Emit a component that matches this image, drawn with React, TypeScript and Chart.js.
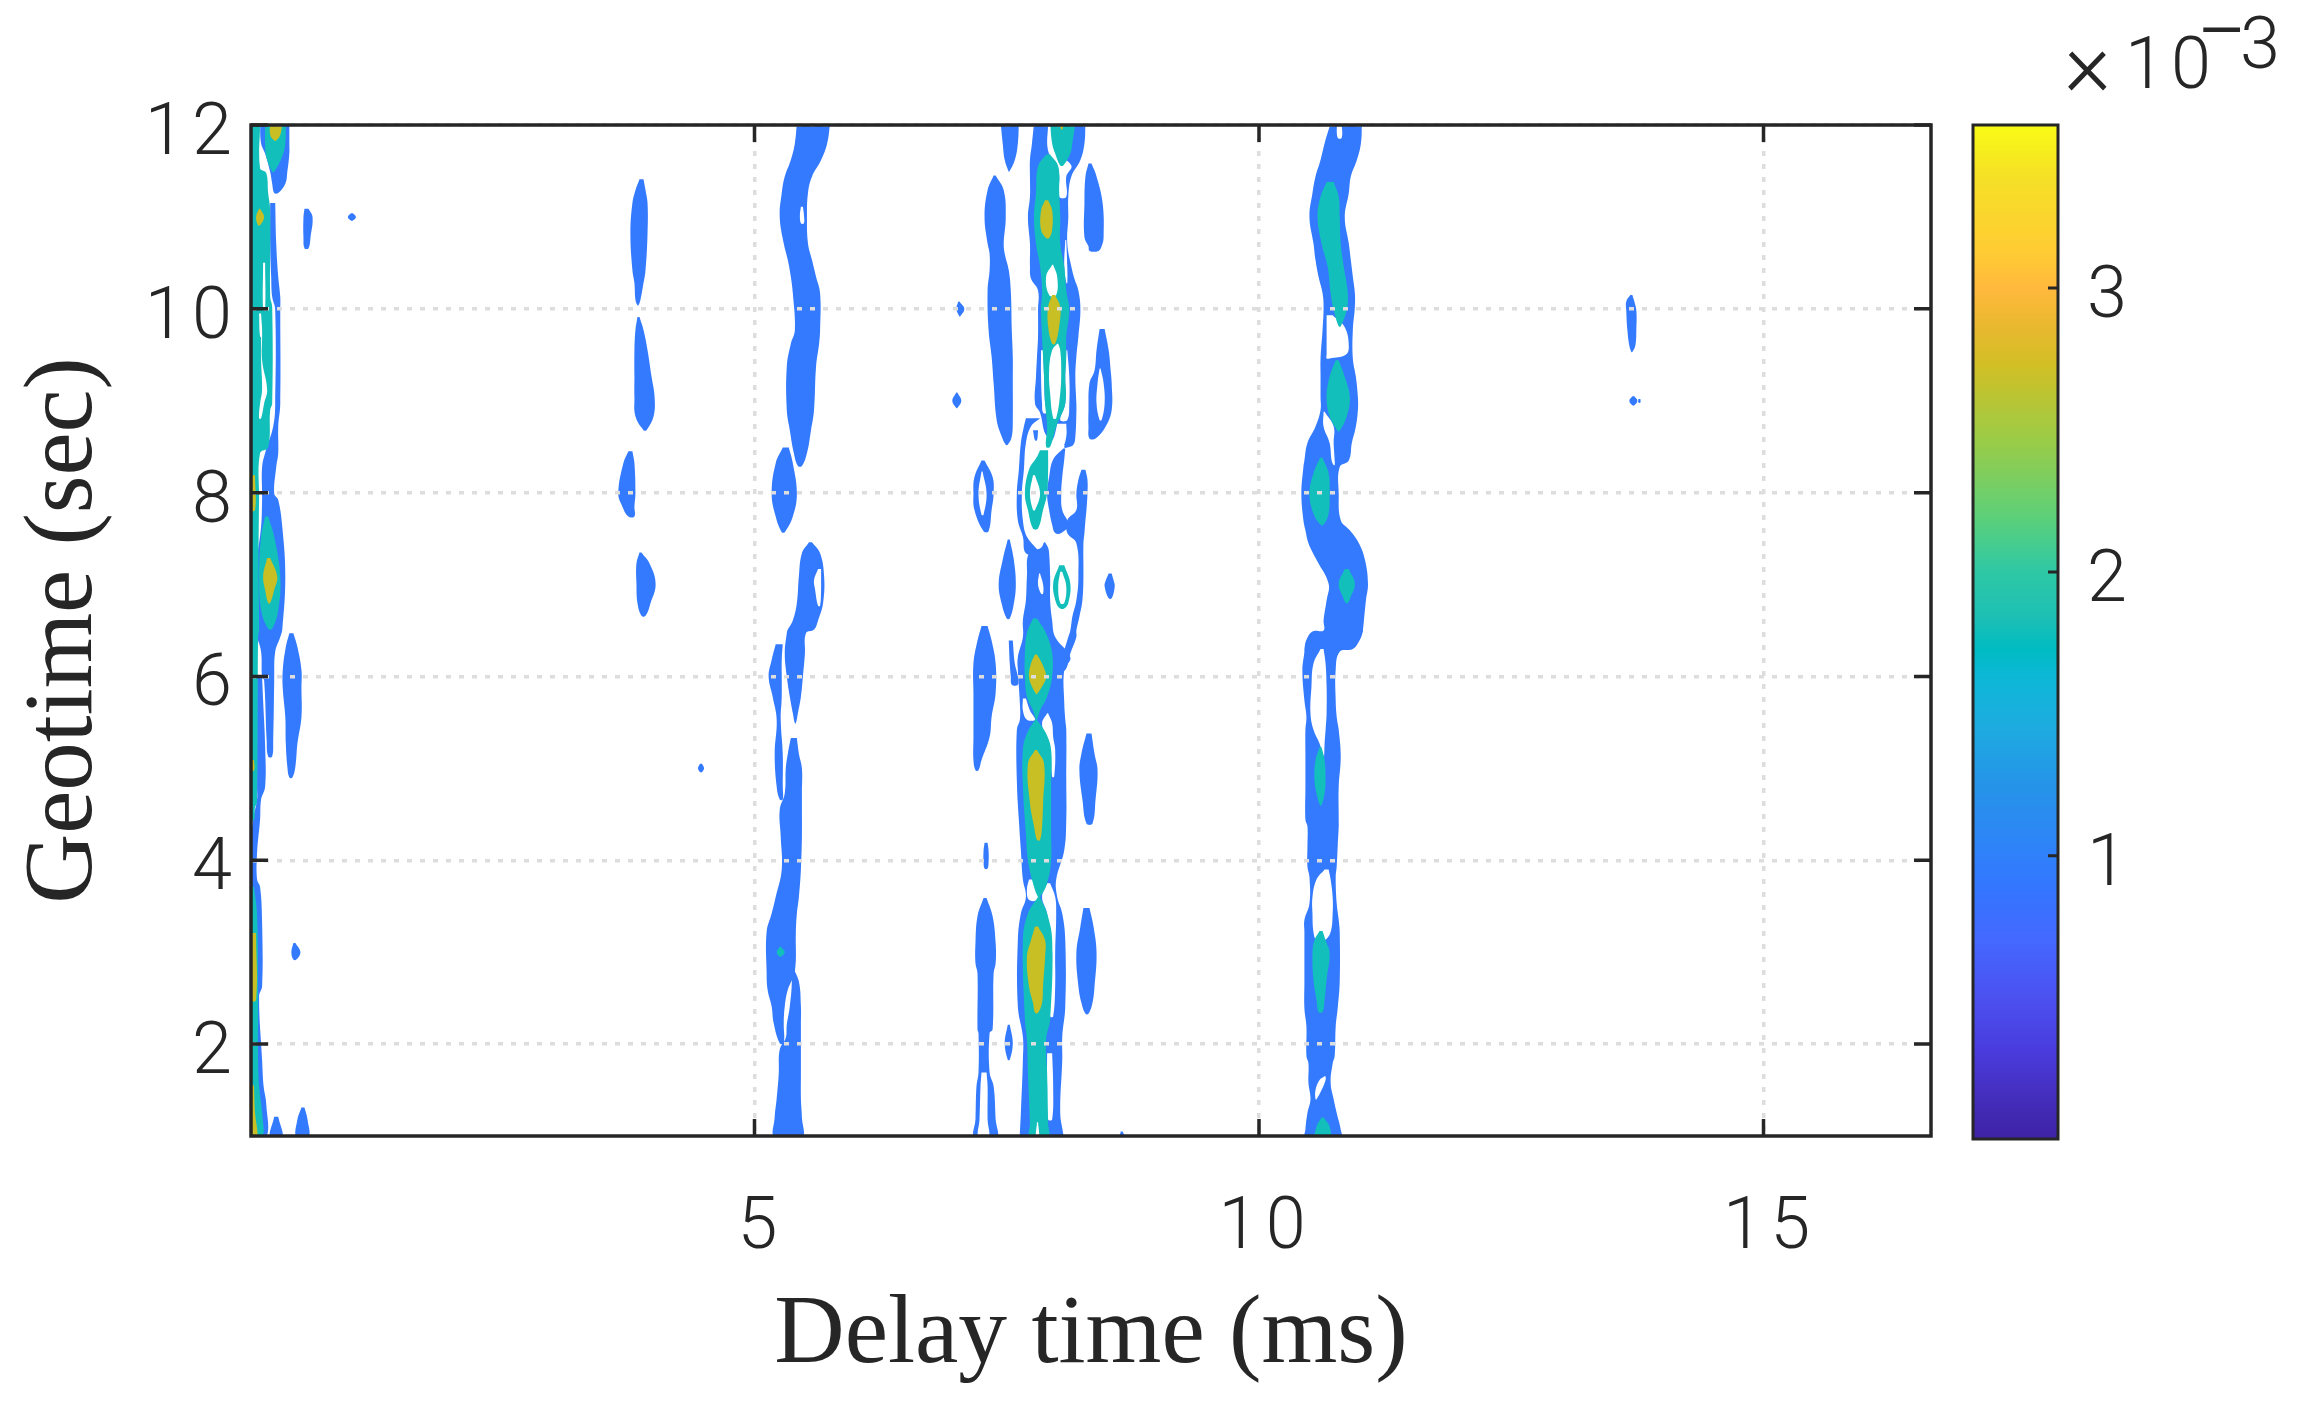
import { useEffect, useRef } from 'react'
import Chart from 'chart.js/auto'

type Row = number[] // [geotime, left delay, right delay]

const xTicks = [5, 10, 15]
const yTicks = [2, 4, 6, 8, 10, 12]
const xRange = [0.01, 16.66]
const yRange = [1, 12]

const cbarTicks = [0.001, 0.002, 0.003]
const cbarRange = [0.0000025, 0.003574]
const cbarValues = [0.0000025, 0.00013, 0.00032, 0.00051, 0.0007, 0.00091, 0.001075, 0.00126, 0.00145, 0.00164, 0.00173, 0.00183, 0.002, 0.00219, 0.00246, 0.00273, 0.00287, 0.003, 0.00313, 0.0034, 0.003574]
const cbarColors = ['#3E22A5', '#432CB8', '#4A3CDF', '#4B52F0', '#4468FF', '#3278FF', '#2D87F5', '#2595E8', '#1EABE0', '#0BB8D5', '#00BBC2', '#1BBFB5', '#2EC8A5', '#5CD07A', '#9ACC47', '#D2BF25', '#EAB82F', '#FFB93C', '#FFCC33', '#F5E125', '#F9FB15']

// level 1 contours
const rightBand: Row[] = [[12.02,10.71,11.02],[11.8,10.65,11.01],[11.62,10.61,10.97],[11.44,10.56,10.91],[11.26,10.53,10.89],[11,10.5,10.85],[10.71,10.54,10.89],[10.53,10.56,10.91],[10.35,10.59,10.93],[10.17,10.63,10.95],[10.02,10.64,10.95],[9.77,10.63,10.93],[9.46,10.61,10.93],[9.26,10.61,10.96],[9.04,10.61,10.98],[8.9,10.61,10.98],[8.72,10.56,10.96],[8.54,10.48,10.92],[8.35,10.45,10.89],[8.28,10.44,10.8],[7.99,10.42,10.79],[7.7,10.44,10.81],[7.59,10.46,10.9],[7.45,10.49,10.99],[7.27,10.57,11.05],[7.01,10.69,11.08],[6.83,10.67,11.06],[6.61,10.64,11.04],[6.5,10.64,11.03],[6.49,10.53,11.03],[6.4,10.47,11],[6.3,10.45,10.93],[6.27,10.45,10.8],[6.07,10.43,10.76],[5.74,10.45,10.76],[5.56,10.47,10.77],[5.42,10.46,10.79],[5.13,10.46,10.81],[4.8,10.46,10.79],[4.44,10.46,10.79],[4.37,10.48,10.79],[4.15,10.48,10.78],[3.93,10.48,10.77],[3.82,10.5,10.76],[3.53,10.5,10.77],[3.35,10.45,10.79],[3.22,10.45,10.8],[2.68,10.45,10.8],[2.39,10.45,10.78],[2.19,10.47,10.76],[1.87,10.47,10.75],[1.79,10.49,10.73],[1.58,10.49,10.71],[1.4,10.51,10.74],[1.25,10.48,10.77],[1.07,10.46,10.81],[0.98,10.46,10.81]]
const farDashTop: Row[] = [[10.15,13.68,13.7],[10.08,13.64,13.72],[9.98,13.64,13.74],[9.78,13.65,13.74],[9.6,13.67,13.73],[9.53,13.69,13.7]]
const farDotA: Row[] = [[9.05,13.7,13.72],[9,13.67,13.75],[8.95,13.7,13.72]]
const farDotB: Row[] = [[9.02,13.76,13.78],[8.98,13.76,13.78]]
const colATop: Row[] = [[12.02,7.44,7.62],[11.8,7.46,7.61],[11.62,7.48,7.58],[11.49,7.52,7.525]]
const colALong: Row[] = [[11.45,7.37,7.39],[11.29,7.31,7.47],[11,7.28,7.49],[10.71,7.31,7.47],[10.6,7.33,7.48],[10.42,7.33,7.52],[10.2,7.31,7.54],[9.77,7.32,7.55],[9.48,7.35,7.56],[9.19,7.37,7.56],[8.79,7.4,7.56],[8.61,7.45,7.55],[8.52,7.49,7.51]]
const dotC: Row[] = [[10.08,7.02,7.03],[10,7,7.08],[9.92,7.03,7.04]]
const dotD: Row[] = [[9.09,7,7.01],[9,6.96,7.05],[8.92,7,7.01]]
const ringE: Row[] = [[8.35,7.25,7.28],[8.17,7.18,7.36],[7.99,7.17,7.37],[7.81,7.18,7.35],[7.58,7.27,7.32]]
const ringF: Row[] = [[9.78,8.42,8.47],[9.55,8.39,8.51],[9.33,8.37,8.53],[9.19,8.32,8.54],[8.9,8.31,8.54],[8.72,8.31,8.48],[8.59,8.32,8.38]]
const blobG: Row[] = [[11.58,8.31,8.34],[11.44,8.28,8.39],[11.15,8.27,8.45],[10.78,8.27,8.46],[10.68,8.31,8.44],[10.63,8.32,8.41]]
const blobH: Row[] = [[7.12,8.51,8.54],[7.04,8.48,8.56],[6.98,8.47,8.57],[6.85,8.51,8.54]]
const blobI: Row[] = [[7.49,7.51,7.53],[7.27,7.46,7.57],[7.01,7.42,7.59],[6.79,7.45,7.57],[6.63,7.5,7.53]]
const blobJ: Row[] = [[6.55,7.25,7.31],[6.39,7.21,7.35],[6.14,7.17,7.39],[5.82,7.17,7.39],[5.56,7.17,7.35],[5.34,7.17,7.33],[5.09,7.17,7.25],[4.98,7.19,7.22]]
const blobK: Row[] = [[4.19,7.28,7.31],[4.1,7.27,7.32],[3.98,7.27,7.32],[3.91,7.28,7.31]]
const blobL: Row[] = [[3.59,7.27,7.3],[3.39,7.21,7.36],[3.1,7.19,7.39],[2.88,7.19,7.39],[2.77,7.21,7.37],[2.16,7.21,7.36],[2.12,7.22,7.33],[1.69,7.22,7.33],[1.54,7.2,7.37],[1.18,7.19,7.39],[0.98,7.18,7.4]]
const blobM: Row[] = [[2.21,7.51,7.53],[2.01,7.48,7.56],[1.83,7.51,7.53]]
const blobN: Row[] = [[5.38,8.29,8.34],[5.16,8.24,8.37],[4.98,8.22,8.4],[4.66,8.25,8.38],[4.4,8.29,8.35]]
const blobO: Row[] = [[3.48,8.26,8.32],[3.28,8.23,8.36],[2.99,8.19,8.39],[2.63,8.21,8.37],[2.45,8.24,8.35],[2.33,8.28,8.31]]
const sliverP: Row[] = [[6.39,7.52,7.56],[6.14,7.53,7.58],[6,7.54,7.61],[5.91,7.55,7.61]]
const tinyBottom: Row[] = [[1.05,8.63,8.65],[0.98,8.62,8.67]]
const midTop: Row[] = [[12.02,7.77,8.28],[11.8,7.75,8.27],[11.62,7.73,8.23],[11.44,7.73,8.14],[11.22,7.73,8.11],[11,7.71,8.11],[10.71,7.73,8.1],[10.46,7.73,8.14],[10.33,7.74,8.17],[10.2,7.81,8.21],[9.99,7.81,8.23],[9.7,7.81,8.21],[9.48,7.8,8.19],[9.26,7.79,8.18],[8.97,7.78,8.19],[8.87,7.83,8.19],[8.61,7.9,8.18],[8.52,8.07,8.16],[8.49,8.07,8.1]]
const midStrand: Row[] = [[8.81,7.69,7.83],[8.72,7.67,7.74],[8.54,7.64,7.69],[8.25,7.62,7.67],[7.99,7.6,7.65],[7.7,7.61,7.66],[7.52,7.66,7.7],[7.34,7.69,7.82]]
const midStub: Row[] = [[8.68,7.76,7.81],[8.57,7.78,7.8]]
const midLower: Row[] = [[7.46,7.87,7.88],[7.4,7.84,7.91],[7.34,7.72,7.92],[7.09,7.7,7.93],[6.83,7.69,7.93],[6.61,7.66,7.95],[6.43,7.66,7.98],[6.21,7.61,8.13],[6.07,7.61,8.07],[5.71,7.63,8.07],[5.53,7.63,8.08],[5.42,7.6,8.09],[4.87,7.6,8.09],[4.44,7.62,8.09],[4.11,7.64,8.07],[3.79,7.66,7.99],[3.6,7.69,8],[3.42,7.64,8.05],[3.13,7.61,8.08],[2.41,7.61,8.08],[2.08,7.66,8.05],[1.83,7.66,8.05],[1.25,7.64,8.03],[1.02,7.63,8.06],[0.98,7.63,8.06]]
const midStrandRight: Row[] = [[8.25,8.24,8.28],[8.14,8.21,8.3],[7.99,8.19,8.3],[7.81,8.19,8.29],[7.7,8.1,8.28],[7.56,8.1,8.27],[7.45,8.19,8.26],[7.09,8.21,8.26],[6.83,8.19,8.25],[6.65,8.15,8.22],[6.5,8.13,8.19],[6.43,8.11,8.19],[6.25,8.06,8.13],[6.07,8.01,8.08]]
const midBlob: Row[] = [[8.48,8.06,8.08],[8.36,7.96,8.07],[8.17,7.92,8.05],[7.99,7.9,8.04],[7.81,7.92,8.05],[7.65,7.95,8.11],[7.56,7.98,8.04]]
const leftTop: Row[] = [[12.02,0.1,0.39],[11.8,0.11,0.39],[11.69,0.15,0.39],[11.49,0.2,0.37],[11.36,0.22,0.35],[11.26,0.24,0.28]]
const leftStrip: Row[] = [[11.15,0.2,0.25],[10.71,0.2,0.26],[10.35,0.21,0.28],[10.13,0.22,0.3],[9.99,0.25,0.3],[8.97,0.25,0.3],[8.72,0.23,0.28],[8.43,0.15,0.28],[8.28,0.12,0.26],[7.99,0.12,0.24],[7.92,0.12,0.28],[7.63,0.11,0.32],[7.09,0.05,0.35],[6.51,0.05,0.32],[6.43,0.07,0.3],[6.27,0.11,0.25],[5.99,0.12,0.24],[5.96,0.14,0.24],[5.31,0.165,0.23],[5.13,0.18,0.22]]
const leftEdge: Row[] = [[5.99,0.07,0.12],[5.74,0.07,0.13],[5.24,0.07,0.15],[4.8,0.07,0.15],[4.66,0.07,0.11],[4.44,0.03,0.1],[4.08,0,0.07],[3.79,0,0.07],[3.71,0,0.1],[3.32,0,0.12],[2.63,0,0.12],[2.52,0,0.09],[1.83,0,0.12],[1.54,0,0.135],[1.36,0,0.16],[0.98,0,0.16]]
const blobQ: Row[] = [[6.47,0.39,0.43],[6.32,0.355,0.47],[6.07,0.325,0.51],[5.87,0.325,0.51],[5.56,0.35,0.51],[5.27,0.355,0.47],[5.02,0.37,0.45],[4.9,0.39,0.42]]
const blobR: Row[] = [[3.1,0.43,0.45],[3,0.41,0.5],[2.92,0.43,0.46]]
const blobS: Row[] = [[1.21,0.24,0.28],[0.98,0.2,0.32]]
const blobU: Row[] = [[1.31,0.51,0.54],[1.18,0.47,0.57],[0.98,0.46,0.58]]
const blobV: Row[] = [[11.09,0.54,0.58],[11,0.53,0.62],[10.78,0.53,0.6],[10.66,0.54,0.58]]
const dotW: Row[] = [[11.04,1,1.02],[11,0.97,1.05],[10.96,1,1.02]]
const dotX: Row[] = [[5.05,4.46,4.48],[5,4.44,4.5],[4.96,4.46,4.48]]
const col39a: Row[] = [[11.41,3.86,3.9],[11.29,3.82,3.92],[11.15,3.79,3.94],[10.82,3.77,3.94],[10.42,3.79,3.92],[10.28,3.81,3.9],[10.1,3.82,3.87],[10.04,3.84,3.85]]
const col39b: Row[] = [[9.91,3.84,3.86],[9.77,3.82,3.9],[9.55,3.81,3.94],[9.26,3.81,3.98],[9.04,3.81,4.01],[8.83,3.82,4],[8.68,3.9,3.93]]
const col39c: Row[] = [[8.45,3.75,3.79],[8.32,3.7,3.81],[7.99,3.65,3.82],[7.85,3.69,3.81],[7.74,3.75,3.81]]
const col39d: Row[] = [[7.35,3.86,3.88],[7.23,3.83,3.96],[7.01,3.83,4.02],[6.8,3.84,3.97],[6.66,3.88,3.92]]
const col54a: Row[] = [[12.02,5.42,5.75],[11.8,5.4,5.72],[11.62,5.36,5.66],[11.44,5.3,5.57],[11.26,5.27,5.53],[11,5.25,5.52],[10.71,5.29,5.53],[10.53,5.33,5.57],[10.35,5.36,5.61],[10.17,5.38,5.65],[9.77,5.4,5.65],[9.62,5.36,5.64],[9.37,5.32,5.61],[8.9,5.32,5.59],[8.68,5.35,5.56],[8.43,5.39,5.52],[8.29,5.43,5.47]]
const col54b: Row[] = [[8.49,5.28,5.34],[8.32,5.21,5.38],[7.99,5.17,5.42],[7.74,5.21,5.38],[7.57,5.27,5.3]]
const col54c: Row[] = [[7.46,5.54,5.57],[7.34,5.47,5.65],[7.09,5.44,5.69],[6.8,5.42,5.68],[6.61,5.38,5.63],[6.51,5.33,5.59],[6.47,5.32,5.51],[6.25,5.3,5.5],[6,5.32,5.48],[5.78,5.35,5.46],[5.6,5.38,5.43],[5.49,5.4,5.41]]
const col54side: Row[] = [[6.35,5.21,5.28],[6.18,5.17,5.27],[6,5.14,5.27],[5.78,5.18,5.27],[5.53,5.22,5.26],[5.16,5.2,5.28],[4.8,5.22,5.28],[4.66,5.25,5.28]]
const col54low: Row[] = [[5.33,5.36,5.42],[5.16,5.33,5.44],[5,5.31,5.47],[4.73,5.3,5.47],[4.55,5.25,5.47],[4.26,5.26,5.47],[3.9,5.27,5.46],[3.6,5.21,5.44],[3.42,5.17,5.42],[3.22,5.12,5.41],[2.79,5.12,5.4],[2.59,5.13,5.33],[2.41,5.17,5.3],[2.23,5.19,5.29],[2.01,5.25,5.29]]
const col54foot: Row[] = [[2.84,5.36,5.38],[2.68,5.37,5.44],[2.41,5.35,5.46],[2.21,5.32,5.46],[2.07,5.31,5.46],[1.94,5.25,5.46],[1.67,5.24,5.46],[1.41,5.22,5.46],[1.2,5.2,5.47],[0.98,5.2,5.47]]

// white gaps inside the level 1 contours
const gapBandNotch: Row[] = [[12.02,10.77,10.82],[11.86,10.78,10.82]]
const gapBandA: Row[] = [[9.93,10.67,10.73],[9.8,10.67,10.85],[9.59,10.67,10.89],[9.5,10.67,10.86],[9.46,10.67,10.7]]
const gapBandB: Row[] = [[8.88,10.64,10.65],[8.72,10.64,10.74],[8.54,10.7,10.74],[8.35,10.72,10.75],[8.3,10.74,10.75]]
const gapBandC: Row[] = [[6.3,10.61,10.64],[6.14,10.54,10.66],[5.89,10.52,10.67],[5.6,10.51,10.67],[5.42,10.54,10.66],[5.27,10.6,10.65],[5.13,10.64,10.645]]
const gapBandD: Row[] = [[3.9,10.65,10.69],[3.79,10.57,10.71],[3.6,10.53,10.73],[3.42,10.53,10.73],[3.22,10.54,10.71],[3.13,10.57,10.65]]
const gapBandE: Row[] = [[1.65,10.65,10.66],[1.61,10.6,10.66],[1.5,10.56,10.62],[1.4,10.56,10.57]]
const gapRingE: Row[] = [[8.23,7.25,7.26],[7.99,7.22,7.3],[7.76,7.25,7.27]]
const gapRingF: Row[] = [[9.35,8.42,8.43],[9.19,8.4,8.46],[8.97,8.39,8.47],[8.79,8.42,8.44]]
const gapBlobL: Row[] = [[1.69,7.25,7.3],[1.54,7.24,7.31],[1.18,7.23,7.31],[0.98,7.22,7.32]]
const gapMidA: Row[] = [[12.02,7.91,7.95],[11.72,7.91,7.98],[11.56,8,8.14],[11.44,8.02,8.09],[11.22,8.02,8.09]]
const gapMidB: Row[] = [[9.55,7.84,7.86],[9.26,7.84,7.87],[8.97,7.85,7.88],[8.87,7.86,7.9]]
const gapMidC: Row[] = [[9.55,8.09,8.1],[9.26,8.08,8.12],[8.97,8.08,8.12],[8.79,8.03,8.1]]
const gapMidD: Row[] = [[8.75,8,8.09],[8.61,7.97,8.09],[8.5,7.93,8.05]]
const gapMidE: Row[] = [[10.75,8.08,8.09],[10.46,8.07,8.1],[10.28,8.09,8.1]]
const gapLowA: Row[] = [[7.12,7.82,7.83],[7,7.81,7.86],[6.9,7.84,7.86]]
const gapLowB: Row[] = [[5.76,7.66,7.69],[5.63,7.66,7.73],[5.53,7.7,7.78]]
const gapLowC: Row[] = [[5.6,7.9,7.91],[5.49,7.85,7.95],[5.34,7.89,7.96],[5.2,7.93,7.98],[4.91,7.95,7.97]]
const gapLowD: Row[] = [[3.79,7.72,7.76],[3.68,7.7,7.8],[3.57,7.72,7.8]]
const gapLowE: Row[] = [[3.75,7.9,7.93],[3.6,7.85,7.98],[3.42,7.9,7.99],[2.99,7.95,7.98],[2.63,7.93,7.98],[2.3,7.93,7.96]]
const gapLowF: Row[] = [[1.9,7.9,7.95],[1.54,7.9,7.96],[1.18,7.91,7.95]]
const gapCol54a: Row[] = [[11.11,5.46,5.48],[11.02,5.45,5.49],[10.93,5.46,5.49]]
const gapCol54c: Row[] = [[7.17,5.63,5.66],[7.05,5.59,5.66],[6.95,5.6,5.66],[6.77,5.63,5.65]]

// level 2 contours
const tealBandA: Row[] = [[11.38,10.67,10.74],[11.22,10.61,10.79],[11,10.58,10.8],[10.71,10.62,10.81],[10.46,10.68,10.84],[10.17,10.71,10.88],[9.99,10.74,10.87],[9.81,10.79,10.81]]
const tealBandB: Row[] = [[9.44,10.76,10.79],[9.26,10.7,10.85],[9.04,10.67,10.9],[8.83,10.7,10.87],[8.67,10.78,10.8]]
const tealBandC: Row[] = [[8.38,10.605,10.63],[8.21,10.54,10.69],[7.99,10.5,10.7],[7.77,10.54,10.69],[7.65,10.61,10.64]]
const tealBandD: Row[] = [[7.17,10.85,10.89],[7.01,10.79,10.95],[6.87,10.83,10.91],[6.8,10.86,10.88]]
const tealBandE: Row[] = [[5.23,10.6,10.62],[5.09,10.56,10.65],[4.87,10.55,10.66],[4.73,10.57,10.65],[4.6,10.605,10.62]]
const tealBandF: Row[] = [[3.23,10.6,10.63],[3.13,10.55,10.66],[2.99,10.53,10.7],[2.7,10.54,10.67],[2.48,10.57,10.65],[2.35,10.59,10.63]]
const tealBandG: Row[] = [[1.2,10.62,10.64],[1.1,10.57,10.7],[0.96,10.56,10.7]]
const tealTopRight: Row[] = [[12.02,7.93,8.18],[11.8,7.95,8.15],[11.69,7.98,8.13],[11.56,8.03,8.06]]
const tealMain: Row[] = [[11.68,7.89,7.93],[11.55,7.81,8.01],[11.26,7.79,8.02],[11,7.77,8.03],[10.71,7.79,8.03],[10.46,7.83,8.07],[10.2,7.85,8.09],[9.99,7.84,8.12],[9.7,7.85,8.09],[9.48,7.86,8.09],[9.26,7.87,8.08],[8.97,7.88,8.08],[8.72,7.9,7.99],[8.5,7.89,7.93]]
const tealRing: Row[] = [[8.46,7.83,7.91],[8.39,7.8,7.91],[8.25,7.72,7.91],[7.99,7.68,7.9],[7.81,7.71,7.86],[7.61,7.76,7.81]]
const tealSmallRing: Row[] = [[7.21,8.02,8.07],[7.01,7.96,8.13],[6.8,7.99,8.11],[6.74,8.03,8.07]]
const tealA: Row[] = [[6.63,7.76,7.8],[6.47,7.7,7.89],[6.25,7.68,7.95],[6,7.68,7.95],[5.78,7.7,7.9],[5.63,7.76,7.83],[5.53,7.79,7.8]]
const tealB: Row[] = [[5.53,7.78,7.8],[5.38,7.7,7.89],[5.2,7.66,7.94],[4.8,7.66,7.94],[4.29,7.69,7.94],[4,7.71,7.94],[3.75,7.76,7.9],[3.6,7.81,7.83]]
const tealC: Row[] = [[3.6,7.81,7.83],[3.42,7.71,7.9],[3.13,7.66,7.95],[2.27,7.68,7.93],[2.05,7.7,7.89],[1.69,7.71,7.9],[1.14,7.73,7.91],[0.98,7.73,7.91]]
const tealLeftTop: Row[] = [[12.02,0.15,0.355],[11.8,0.15,0.35],[11.66,0.16,0.32],[11.49,0.22,0.24]]
const tealLeftCol: Row[] = [[12.02,0,0.1],[11.53,0,0.1],[11.48,0,0.16],[11.26,0,0.18],[11.07,0,0.2],[10.13,0,0.2],[10.02,0,0.22],[8.97,0,0.22],[8.9,0,0.2],[8.49,0,0.18],[8.43,0,0.1],[7.92,0,0.09],[7.15,0,0.085],[6.51,0,0.09],[6.43,0,0.08],[4.62,0,0.07],[4.58,0,0.05],[4.44,0,0.04]]
const tealLeftLow: Row[] = [[3.71,0,0.04],[3.42,0,0.07],[2.52,0,0.08],[1.83,0,0.08],[1.54,0,0.09],[1.25,0,0.12],[0.98,0,0.12]]
const tealLeftBlob: Row[] = [[7.74,0.15,0.18],[7.52,0.11,0.24],[7.09,0.09,0.3],[6.72,0.11,0.28],[6.52,0.18,0.22]]
const tealDot: Row[] = [[3.06,5.25,5.26],[3,5.22,5.3],[2.95,5.25,5.26]]

// white gaps inside the level 2 contours
const gapTealA: Row[] = [[10.48,7.95,7.96],[10.35,7.89,8],[10.15,7.92,7.99]]
const gapTealB: Row[] = [[9.62,8,8.01],[9.55,7.95,8.03],[9.33,7.92,8.04],[9.08,7.93,8.03],[8.81,7.96,7.99]]
const gapTealRing: Row[] = [[8.19,7.76,7.78],[7.99,7.73,7.83],[7.81,7.76,7.78]]
const gapTealSmall: Row[] = [[7.14,8.03,8.05],[6.98,8.01,8.09],[6.8,8.03,8.07]]
const gapTealSplit: Row[] = [[1.15,7.8,7.81],[0.98,7.79,7.82]]
const gapSlitA: Row[] = [[10.5,0.13,0.15],[9.99,0.13,0.15]]
const gapSlitB: Row[] = [[9.95,0.09,0.11],[9.7,0.1,0.12]]
const gapSlitC: Row[] = [[9.7,0.11,0.12],[9.44,0.11,0.12],[9.12,0.12,0.17],[8.97,0.1,0.14],[8.81,0.09,0.11]]

// level 3 contours
const goldA: Row[] = [[11.18,7.88,7.91],[11.07,7.84,7.95],[10.86,7.84,7.95],[10.77,7.89,7.92]]
const goldB: Row[] = [[10.15,7.95,7.98],[10.02,7.91,8.03],[9.81,7.91,8.02],[9.62,7.95,7.98]]
const goldC: Row[] = [[6.24,7.78,7.8],[6.14,7.74,7.85],[6,7.72,7.89],[5.89,7.75,7.85],[5.81,7.79,7.8]]
const goldD: Row[] = [[5.2,7.78,7.8],[5.05,7.71,7.87],[4.62,7.73,7.86],[4.37,7.77,7.85],[4.22,7.8,7.83]]
const goldE: Row[] = [[3.28,7.78,7.81],[3.13,7.74,7.88],[2.95,7.7,7.88],[2.63,7.72,7.86],[2.45,7.76,7.85],[2.34,7.78,7.81]]
const goldTop: Row[] = [[12.02,8.02,8.07],[11.95,8.04,8.05]]
const goldLeftTop: Row[] = [[12.02,0.2,0.32],[11.89,0.2,0.3],[11.83,0.24,0.26]]
const goldLeftDot: Row[] = [[11.09,0.09,0.1],[11,0.06,0.14],[10.91,0.08,0.1]]
const goldLeftBlob: Row[] = [[7.29,0.17,0.2],[7.09,0.13,0.27],[6.94,0.15,0.24],[6.8,0.18,0.2]]
const goldEdgeA: Row[] = [[8.19,0,0.05],[7.81,0,0.05]]
const goldEdgeB: Row[] = [[5.09,0,0.04],[4.98,0,0.04]]
const goldEdgeC: Row[] = [[3.21,0,0.06],[2.48,0,0.06]]
const goldEdgeD: Row[] = [[1.55,0,0.04],[1.25,0,0.05],[0.98,0,0.07]]

const level1 = [rightBand, farDashTop, farDotA, farDotB, colATop, colALong, dotC, dotD, ringE, ringF, blobG, blobH, blobI, blobJ, blobK, blobL, blobM, blobN, blobO, sliverP, tinyBottom, midTop, midStrand, midStub, midLower, midStrandRight, midBlob, leftTop, leftStrip, leftEdge, blobQ, blobR, blobS, blobU, blobV, dotW, dotX, col39a, col39b, col39c, col39d, col54a, col54b, col54c, col54side, col54low, col54foot]
const gaps1 = [gapBandNotch, gapBandA, gapBandB, gapBandC, gapBandD, gapBandE, gapRingE, gapRingF, gapBlobL, gapMidA, gapMidB, gapMidC, gapMidD, gapMidE, gapLowA, gapLowB, gapLowC, gapLowD, gapLowE, gapLowF, gapCol54a, gapCol54c]
const level2 = [tealBandA, tealBandB, tealBandC, tealBandD, tealBandE, tealBandF, tealBandG, tealTopRight, tealMain, tealRing, tealSmallRing, tealA, tealB, tealC, tealLeftTop, tealLeftCol, tealLeftLow, tealLeftBlob, tealDot]
const gaps2 = [gapTealA, gapTealB, gapTealRing, gapTealSmall, gapTealSplit, gapSlitA, gapSlitB, gapSlitC]
const level3 = [goldA, goldB, goldC, goldD, goldE, goldTop, goldLeftTop, goldLeftDot, goldLeftBlob, goldEdgeA, goldEdgeB, goldEdgeC, goldEdgeD]

const INK = '#262626'
const TICK_FONT = { family: 'Roboto', weight: '300', size: 72 }
const W = 2306
const H = 1408

// left edge going down, right edge coming back up
const outline = (rows: Row[]) => [
  ...rows.map((r) => ({ x: r[1], y: r[0] })),
  ...[...rows].reverse().map((r) => ({ x: r[2], y: r[0] })),
]

const contour = (rows: Row[], color: string) => ({
  data: outline(rows),
  showLine: true,
  fill: 'shape',
  backgroundColor: color,
  borderWidth: 0,
  pointRadius: 0,
  tension: 0.4,
})

// digits sit far apart in the original font
const spaced = (v: number) => String(v).split('').join('\u200A')

const frameAndTicks = {
  id: 'frameAndTicks',
  afterDraw(chart: any) {
    const { ctx, chartArea: a, scales } = chart
    ctx.save()
    ctx.strokeStyle = INK
    ctx.lineWidth = 3.5
    ctx.beginPath()
    xTicks.forEach((t) => {
      const px = scales.x.getPixelForValue(t)
      ctx.moveTo(px, a.bottom)
      ctx.lineTo(px, a.bottom - 17)
      ctx.moveTo(px, a.top)
      ctx.lineTo(px, a.top + 17)
    })
    yTicks.forEach((t) => {
      const py = scales.y.getPixelForValue(t)
      ctx.moveTo(a.left, py)
      ctx.lineTo(a.left + 17, py)
      ctx.moveTo(a.right, py)
      ctx.lineTo(a.right - 17, py)
    })
    ctx.stroke()
    ctx.strokeRect(a.left, a.top, a.right - a.left, a.bottom - a.top)
    ctx.restore()
  },
}

const cbarDecor = {
  id: 'cbarDecor',
  afterDraw(chart: any) {
    const { ctx, chartArea: a, scales } = chart
    ctx.save()
    ctx.strokeStyle = INK
    ctx.lineWidth = 3
    ctx.beginPath()
    cbarTicks.forEach((t) => {
      const py = scales.y.getPixelForValue(t)
      ctx.moveTo(a.right, py)
      ctx.lineTo(a.right - 10, py)
    })
    ctx.stroke()
    ctx.strokeRect(a.left, a.top, a.right - a.left, a.bottom - a.top)
    // axis multiplier
    ctx.fillStyle = INK
    ctx.font = `${TICK_FONT.weight} ${TICK_FONT.size}px ${TICK_FONT.family}`
    ctx.textAlign = 'left'
    ctx.textBaseline = 'alphabetic'
    ctx.fillText('1', 2125, 88)
    ctx.fillText('0', 2171, 88)
    ctx.fillText('3', 2240, 68)
    ctx.font = `${TICK_FONT.weight} 90px ${TICK_FONT.family}`
    ctx.fillText('×', 2064, 95)
    ctx.fillText('−', 2196, 62)
    ctx.restore()
  },
}

export default function App() {
  const plotRef = useRef<HTMLCanvasElement>(null)
  const cbarRef = useRef<HTMLCanvasElement>(null)

  useEffect(() => {
    if (!plotRef.current || !cbarRef.current) return

    const layers = [
      ...level1.map((r) => contour(r, '#347AFF')),
      ...gaps1.map((r) => contour(r, '#FFFFFF')),
      ...level2.map((r) => contour(r, '#13BFBB')),
      ...gaps2.map((r) => contour(r, '#FFFFFF')),
      ...level3.map((r) => contour(r, '#C8BF24')),
    ]

    const plot = new Chart(plotRef.current, {
      type: 'scatter',
      data: { datasets: layers.reverse() as any },
      plugins: [frameAndTicks],
      options: {
        responsive: false,
        animation: false,
        devicePixelRatio: 1,
        layout: { padding: { left: 0, top: 125, right: W - 1931, bottom: 0 } },
        plugins: { legend: { display: false }, tooltip: { enabled: false } },
        scales: {
          x: {
            type: 'linear',
            min: xRange[0],
            max: xRange[1],
            afterFit: (s: any) => { s.height = H - 1136 },
            afterBuildTicks: (s: any) => { s.ticks = xTicks.map((value) => ({ value })) },
            grid: { z: 1, color: '#DDDDDD', lineWidth: 3.5, drawTicks: false },
            border: { display: false, dash: [5, 8] },
            ticks: {
              color: INK,
              padding: 51,
              labelOffset: 3,
              maxRotation: 0,
              font: TICK_FONT,
              callback: (v: any) => spaced(v),
            },
            title: {
              display: true,
              text: 'Delay time (ms)',
              color: INK,
              padding: { top: 0, bottom: 13 },
              font: { family: 'Liberation Serif', size: 97.5 },
            },
          },
          y: {
            type: 'linear',
            min: yRange[0],
            max: yRange[1],
            afterFit: (s: any) => { s.width = 251 },
            afterBuildTicks: (s: any) => { s.ticks = yTicks.map((value) => ({ value })) },
            grid: { z: 1, color: '#DDDDDD', lineWidth: 3.5, drawTicks: false },
            border: { display: false, dash: [5, 8] },
            ticks: {
              color: INK,
              padding: 19,
              labelOffset: 11,
              font: TICK_FONT,
              callback: (v: any) => spaced(v),
            },
            title: {
              display: true,
              text: 'Geotime (sec)',
              color: INK,
              padding: { top: 7, bottom: 0 },
              font: { family: 'Liberation Serif', size: 97 },
            },
          },
        },
      },
    } as any)

    const cbar = new Chart(cbarRef.current, {
      type: 'bar',
      data: {
        labels: [''],
        datasets: [
          {
            data: [cbarRange],
            barPercentage: 1,
            categoryPercentage: 1,
            backgroundColor: (c: any) => {
              const { chart } = c
              if (!chart.chartArea) return cbarColors[0]
              const y = chart.scales.y
              const g = chart.ctx.createLinearGradient(0, y.getPixelForValue(cbarRange[0]), 0, y.getPixelForValue(cbarRange[1]))
              cbarValues.forEach((v, i) => {
                g.addColorStop((v - cbarRange[0]) / (cbarRange[1] - cbarRange[0]), cbarColors[i])
              })
              return g
            },
          },
        ],
      },
      plugins: [cbarDecor],
      options: {
        responsive: false,
        animation: false,
        devicePixelRatio: 1,
        layout: { padding: { left: 1973, top: 125, right: 0, bottom: H - 1139 } },
        plugins: { legend: { display: false }, tooltip: { enabled: false } },
        scales: {
          x: { display: false },
          y: {
            position: 'right',
            min: cbarRange[0],
            max: cbarRange[1],
            afterFit: (s: any) => { s.width = W - 2058 },
            afterBuildTicks: (s: any) => { s.ticks = cbarTicks.map((value) => ({ value })) },
            grid: { display: false },
            border: { display: false },
            ticks: {
              color: INK,
              padding: 21,
              labelOffset: 11,
              font: TICK_FONT,
              callback: (v: any) => String(Math.round(v * 1000)),
            },
          },
        },
      },
    } as any)

    return () => {
      plot.destroy()
      cbar.destroy()
    }
  }, [])

  return (
    <div style={{ position: 'absolute', left: 0, top: 0, width: W, height: H, background: '#fff' }}>
      <canvas ref={plotRef} width={W} height={H} style={{ position: 'absolute', left: 0, top: 0 }} />
      <canvas ref={cbarRef} width={W} height={H} style={{ position: 'absolute', left: 0, top: 0 }} />
    </div>
  )
}
